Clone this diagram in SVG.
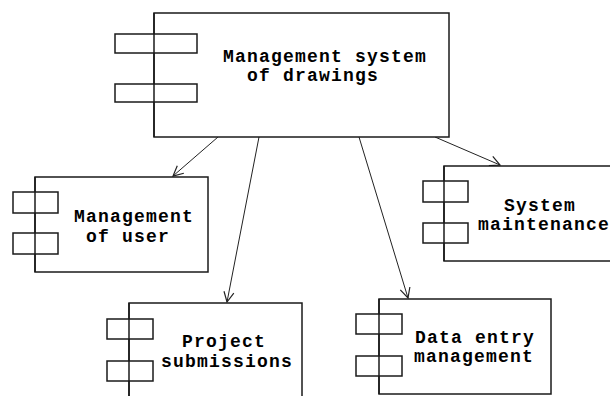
<svg xmlns="http://www.w3.org/2000/svg" width="610" height="396" viewBox="0 0 610 396">
<style>
.box{fill:#fff;stroke:#1a1a1a;stroke-width:1.5}
.port{fill:#fff;stroke:#1a1a1a;stroke-width:1.5}
.edge{stroke:#1a1a1a;stroke-width:1.5}
.lbl{font-family:"Liberation Mono","DejaVu Sans Mono",monospace;font-size:18px;letter-spacing:1.2px;font-weight:bold;fill:#000}
.conn{stroke:#222;stroke-width:1;fill:none;marker-end:url(#arr)}
</style>
<defs>
<marker id="arr" markerUnits="userSpaceOnUse" markerWidth="14" markerHeight="14" refX="11" refY="6" orient="auto">
<path d="M1,1 L11,6 L1,11" fill="none" stroke="#222" stroke-width="1.2"/>
</marker>
</defs>
<rect width="610" height="396" fill="#fff"/>
<g id="connectors">
<line class="conn" x1="218" y1="137" x2="173" y2="176"/>
<line class="conn" x1="259" y1="137" x2="227" y2="302"/>
<line class="conn" x1="359" y1="137" x2="408" y2="298"/>
<line class="conn" x1="435" y1="137" x2="500" y2="165"/>
</g>
<g id="main">
<rect class="box" x="154" y="13" width="295" height="124"/>
<rect class="port" x="115" y="34" width="82" height="19"/>
<rect class="port" x="115" y="84" width="82" height="18"/>
<line class="edge" x1="154" y1="13" x2="154" y2="137"/>
<text class="lbl" x="223" y="62">Management system</text>
<text class="lbl" x="247" y="81">of drawings</text>
</g>
<g id="user">
<rect class="box" x="35" y="177" width="173" height="95"/>
<rect class="port" x="13" y="192" width="45" height="21"/>
<rect class="port" x="13" y="233" width="45" height="21"/>
<line class="edge" x1="35" y1="177" x2="35" y2="272"/>
<text class="lbl" x="74" y="222">Management</text>
<text class="lbl" x="86" y="242">of user</text>
</g>
<g id="system">
<rect class="box" x="444" y="166" width="175" height="95"/>
<rect class="port" x="423" y="181" width="45" height="21"/>
<rect class="port" x="423" y="223" width="45" height="20"/>
<line class="edge" x1="444" y1="166" x2="444" y2="261"/>
<text class="lbl" x="504" y="211">System</text>
<text class="lbl" x="478" y="230">maintenance</text>
</g>
<g id="project">
<rect class="box" x="129" y="303" width="173" height="100"/>
<rect class="port" x="107" y="319" width="46" height="20"/>
<rect class="port" x="107" y="361" width="46" height="20"/>
<line class="edge" x1="129" y1="303" x2="129" y2="403"/>
<text class="lbl" x="182" y="347">Project</text>
<text class="lbl" x="161" y="367">submissions</text>
</g>
<g id="dataentry">
<rect class="box" x="379" y="299" width="172" height="95"/>
<rect class="port" x="356" y="314" width="46" height="20"/>
<rect class="port" x="356" y="356" width="46" height="20"/>
<line class="edge" x1="379" y1="299" x2="379" y2="394"/>
<text class="lbl" x="415" y="343">Data entry</text>
<text class="lbl" x="414" y="362">management</text>
</g>
</svg>
